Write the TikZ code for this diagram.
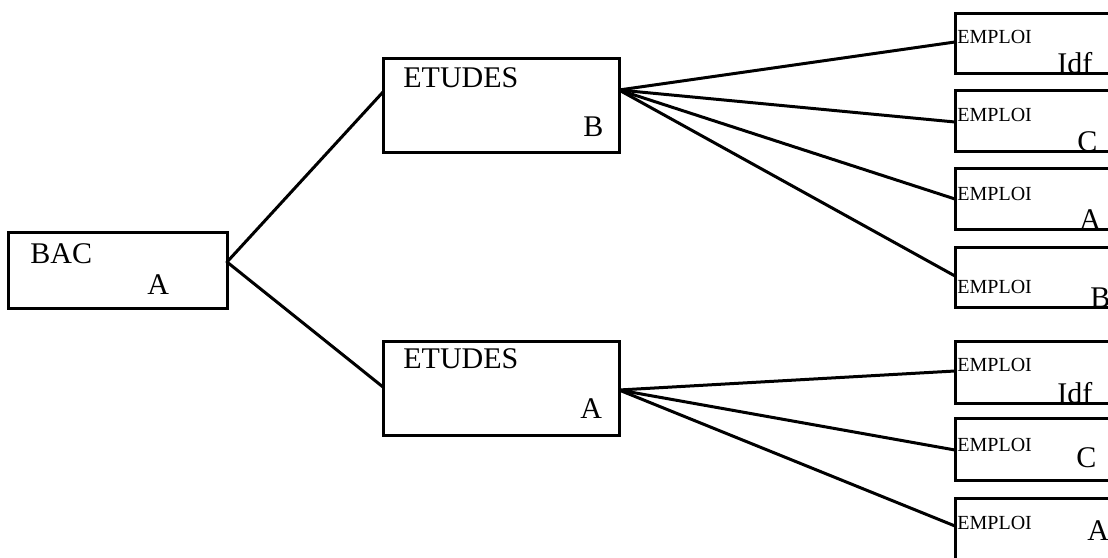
\documentclass[tikz,border=0pt]{standalone}
\usepackage{fontspec}
\setmainfont{Liberation Serif}
\usetikzlibrary{calc}
\begin{document}
\begin{tikzpicture}[x=0.5pt,y=-0.5pt,
  box/.style={draw,line width=1.5pt,rectangle,inner sep=0pt,outer sep=0pt},
  link/.style={line width=1.5pt,line join=round},
  big/.style={font=\fontsize{15}{15}\selectfont,inner sep=0pt},
  small/.style={font=\fontsize{10}{10}\selectfont,inner sep=0pt}]
\useasboundingbox (0,0) rectangle (1108,557);
\clip (0,0) rectangle (1108,557);

% main boxes
\node[box,minimum width=109.5pt,minimum height=38pt] (bac) at (117.5,270) {};
\node[box,minimum width=118pt,minimum height=47pt] (eb) at (501,105) {};
\node[box,minimum width=118pt,minimum height=47pt] (ea) at (501,388) {};

% employment boxes (right side runs past the edge)
\foreach \n/\t/\b in {e1/13/73,e2/90/151,e3/168/229,e4/247/307,e5/341/403,e6/418/480,e7/498/570}{
  \node[box,minimum width=82.5pt,minimum height={(\b-\t)*0.5pt}] (\n) at (1037.5,{(\t+\b)/2}) {};
}

% labels
\node[big,anchor=base west] at (30,263) {BAC};
\node[big,anchor=base west] at (147,294) {A};
\node[big,anchor=base west] at (403,87) {ETUDES};
\node[big,anchor=base west] at (583,136) {B};
\node[big,anchor=base west] at (403,368) {ETUDES};
\node[big,anchor=base west] at (580,418) {A};

\node[small,anchor=base west] at (957,43) {EMPLOI};
\node[big,anchor=base west] at (1057,73) {Idf};
\node[small,anchor=base west] at (957,121) {EMPLOI};
\node[big,anchor=base west] at (1077,151) {C};
\node[small,anchor=base west] at (957,200) {EMPLOI};
\node[big,anchor=base west] at (1079,229) {A};
\node[small,anchor=base west] at (957,293) {EMPLOI};
\node[big,anchor=base west] at (1090,307) {B};
\node[small,anchor=base west] at (957,371) {EMPLOI};
\node[big,anchor=base west] at (1057,403) {Idf};
\node[small,anchor=base west] at (957,451) {EMPLOI};
\node[big,anchor=base west] at (1076,467) {C};
\node[small,anchor=base west] at (957,529) {EMPLOI};
\node[big,anchor=base west] at (1087,540) {A};

% connectors
\draw[link] ($(eb.north west)+(0,34)$) -- ($(bac.north east)+(0,30)$) -- ($(ea.north west)+(0,46)$);
\draw[link] ($(eb.north east)+(0,32)$) -- ($(e1.north west)+(0,29)$);
\draw[link] ($(eb.north east)+(0,32)$) -- ($(e2.north west)+(0,32)$);
\draw[link] ($(eb.north east)+(0,32)$) -- ($(e3.north west)+(0,31)$);
\draw[link] ($(eb.north east)+(0,32)$) -- ($(e4.north west)+(0,29)$);
\draw[link] ($(ea.north east)+(0,49)$) -- ($(e5.north west)+(0,30)$);
\draw[link] ($(ea.north east)+(0,49)$) -- ($(e6.north west)+(0,32)$);
\draw[link] ($(ea.north east)+(0,49)$) -- ($(e7.north west)+(0,28)$);
\end{tikzpicture}
\end{document}
